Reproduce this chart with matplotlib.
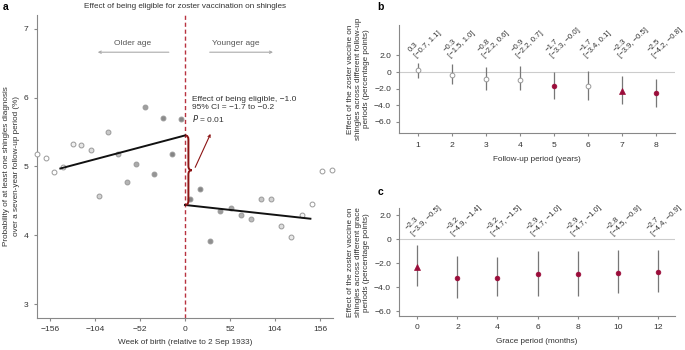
import matplotlib
matplotlib.use('Agg')
import matplotlib.pyplot as plt
import numpy as np
from matplotlib.path import Path
from matplotlib.patches import PathPatch

plt.rcParams['font.family'] = ['Liberation Sans', 'DejaVu Sans']
plt.rcParams['font.size'] = 5.5
plt.rcParams['axes.unicode_minus'] = True

# ---- panel a data (week of birth, probability %) ----
weeks_left = [-170.7, -161.0, -151.1, -141.0, -129.8, -119.8, -109.0, -99.0, -88.6,
              -77.8, -67.4, -57.0, -46.6, -36.2, -25.8, -15.4, -5.0]
prob_left = [5.18, 5.12, 4.92, 4.99, 5.32, 5.31, 5.24, 4.57, 5.50,
             5.18, 4.77, 5.04, 5.86, 4.89, 5.71, 5.18, 5.69]
weeks_right = [5.8, 17.7, 29.2, 40.8, 52.8, 64.4, 76.3, 87.8, 99.4, 111.3,
               122.8, 134.9, 146.4, 158.0, 169.5]
prob_right = [4.53, 4.67, 3.91, 4.35, 4.39, 4.30, 4.23, 4.52, 4.52, 4.13,
              3.97, 4.30, 4.46, 4.94, 4.95]
fit_left_x = [-144, 0]
fit_left_y = [4.97, 5.45]
fit_right_x = [0, 145]
fit_right_y = [4.44, 4.24]
bandwidth = 145

# ---- panel b data ----
followup = [1, 2, 3, 4, 5, 6, 7, 8]
fu_est = [0.3, -0.3, -0.8, -0.9, -1.7, -1.7, -2.3, -2.5]
fu_lo = [-0.7, -1.5, -2.2, -2.2, -3.3, -3.4, -3.9, -4.2]
fu_hi = [1.1, 1.0, 0.6, 0.7, -0.0, 0.1, -0.5, -0.8]
fu_lab_lo = ['−0.7', '−1.5', '−2.2', '−2.2', '−3.3', '−3.4', '−3.9', '−4.2']
fu_lab_hi = ['1.1', '1.0', '0.6', '0.7', '−0.0', '0.1', '−0.5', '−0.8']
fu_marker = ['open', 'open', 'open', 'open', 'circle', 'open', 'tri', 'circle']

# ---- panel c data ----
grace = [0, 2, 4, 6, 8, 10, 12]
gr_est = [-2.3, -3.2, -3.2, -2.9, -2.9, -2.8, -2.7]
gr_lo = [-3.9, -4.9, -4.7, -4.7, -4.7, -4.5, -4.4]
gr_hi = [-0.5, -1.4, -1.5, -1.0, -1.0, -0.9, -0.9]
gr_lab_lo = ['−3.9', '−4.9', '−4.7', '−4.7', '−4.7', '−4.5', '−4.4']
gr_lab_hi = ['−0.5', '−1.4', '−1.5', '−1.0', '−1.0', '−0.9', '−0.9']
gr_marker = ['tri', 'circle', 'circle', 'circle', 'circle', 'circle', 'circle']

RED = '#9b0d3a'
DASH_RED = '#b8323f'
BRACE_RED = '#8c1414'
TXT = '#333333'


def fmt(v):
    return f'{v:.1f}'.replace('-', '−')


def style_axes(ax):
    for s in ['top', 'right']:
        ax.spines[s].set_visible(False)
    for s in ['left', 'bottom']:
        ax.spines[s].set_color('#888888')
        ax.spines[s].set_linewidth(0.8)
    ax.tick_params(colors='#888888', labelcolor=TXT, length=2.5, width=0.8, labelsize=6.1)


fig = plt.figure(figsize=(6.85, 3.5), dpi=100)

# ================= panel a =================
ax = fig.add_axes([0.054, 0.092, 0.432, 0.865])
style_axes(ax)
ax.set_xlim(-171, 171)
ax.set_ylim(2.8, 7.2)
ax.set_xticks([-156, -104, -52, 0, 52, 104, 156])
ax.set_xticklabels(['−156', '−104', '−52', '0', '52', '104', '156'])
ax.set_yticks([3, 4, 5, 6, 7])

xs = np.array(weeks_left + weeks_right)
ys = np.array(prob_left + prob_right)
wts = np.clip(1 - np.abs(xs) / bandwidth, 0, 1)
base = np.array([0.52, 0.52, 0.52])
for x, y, wt in zip(xs, ys, wts):
    face = 1 - (1 - base) * min(1, wt * 1.15)
    ax.plot(x, y, 'o', ms=3.5, mfc=face, mec='#999999', mew=0.7, clip_on=False, zorder=3)

ax.plot(fit_left_x, fit_left_y, color='#111111', lw=1.4, zorder=4)
ax.plot(fit_right_x, fit_right_y, color='#111111', lw=1.4, zorder=4)
ax.axvline(0, color=DASH_RED, lw=1.0, ls=(0, (3, 2)), zorder=2)

# curly brace between the two fits at the cut-off
y0, y1 = fit_left_y[1], fit_right_y[0]
ym = (y0 + y1) / 2
a = 4.0
verts = [(0.5, y0), (a, y0), (a, y0 - 0.06), (a, ym + 0.06), (a, ym), (2 * a, ym),
         (a, ym), (a, ym - 0.06), (a, y1 + 0.06), (a, y1), (0.5, y1)]
codes = [Path.MOVETO, Path.CURVE3, Path.CURVE3, Path.LINETO, Path.CURVE3, Path.CURVE3,
         Path.CURVE3, Path.CURVE3, Path.LINETO, Path.CURVE3, Path.CURVE3]
ax.add_patch(PathPatch(Path(verts, codes), fill=False, ec=BRACE_RED, lw=1.4, zorder=5))
ax.annotate('', xy=(30.9, 5.51), xytext=(10.5, 4.95),
            arrowprops=dict(arrowstyle='->,head_length=0.3,head_width=0.15', color=BRACE_RED, lw=0.8))
ax.text(8.5, 6.02, 'Effect of being eligible, −1.0\n95% CI = −1.7 to −0.2\n$P$ = 0.01',
        ha='left', va='top', fontsize=6.0, color=TXT, linespacing=1.2)

ax.annotate('', xy=(-104, 6.66), xytext=(-15.4, 6.66),
            arrowprops=dict(arrowstyle='->,head_length=0.3,head_width=0.15', color='#aaaaaa', lw=0.8))
ax.annotate('', xy=(105, 6.66), xytext=(25.4, 6.66),
            arrowprops=dict(arrowstyle='->,head_length=0.3,head_width=0.15', color='#aaaaaa', lw=0.8))
ax.text(-60, 6.78, 'Older age', ha='center', va='center', fontsize=6.0, color='#555555')
ax.text(59, 6.78, 'Younger age', ha='center', va='center', fontsize=6.0, color='#555555')

ax.set_xlabel('Week of birth (relative to 2 Sep 1933)', color=TXT, fontsize=5.9, labelpad=4)
ax.set_ylabel('Probability of at least one shingles diagnosis\nover a seven-year follow-up period (%)',
              color=TXT, fontsize=5.9, labelpad=3, linespacing=1.5)
fig.text(0.27, 0.98, 'Effect of being eligible for zoster vaccination on shingles',
         ha='center', va='center', fontsize=5.9, color=TXT)


def effect_panel(ax, xv, est, lo, hi, lab_lo, lab_hi, kinds, lab_y, lab_dx):
    style_axes(ax)
    ax.axhline(0, color='#cccccc', lw=0.8, zorder=1)
    ax.vlines(xv, lo, hi, color='#777777', lw=0.9, zorder=2)
    for x, e, k, l, h in zip(xv, est, kinds, lab_lo, lab_hi):
        if k == 'open':
            ax.plot(x, e, 'o', ms=3.4, mfc='white', mec='#999999', mew=0.7, zorder=3)
        elif k == 'tri':
            ax.plot(x, e, '^', ms=3.8, mfc=RED, mec=RED, mew=0.5, zorder=3)
        else:
            ax.plot(x, e, 'o', ms=3.4, mfc=RED, mec=RED, mew=0.5, zorder=3)
        ax.text(x + lab_dx, lab_y, f'{fmt(e)}\n[{l}, {h}]', rotation=45,
                rotation_mode='anchor', ha='left', va='bottom', fontsize=5.6,
                color=TXT, linespacing=1.15)


# ================= panel b =================
axb = fig.add_axes([0.583, 0.619, 0.402, 0.31])
effect_panel(axb, followup, fu_est, fu_lo, fu_hi, fu_lab_lo, fu_lab_hi, fu_marker, 1.55, 0.0)
axb.set_xlim(0.45, 8.55)
axb.set_ylim(-7.4, 5.7)
axb.set_xticks(followup)
axb.set_yticks([2, 0, -2, -4, -6])
axb.set_yticklabels(['2.0', '0', '−2.0', '−4.0', '−6.0'])
axb.set_xlabel('Follow-up period (years)', color=TXT, fontsize=5.9, labelpad=5)
axb.set_ylabel('Effect of the zoster vaccine on\nshingles across different follow-up\nperiods (percentage points)',
               color=TXT, fontsize=5.9, labelpad=3)

# ================= panel c =================
axc = fig.add_axes([0.583, 0.097, 0.402, 0.308])
effect_panel(axc, grace, gr_est, gr_lo, gr_hi, gr_lab_lo, gr_lab_hi, gr_marker, 0.2, -0.12)
axc.set_xlim(-0.9, 12.85)
axc.set_ylim(-6.4, 2.6)
axc.set_xticks(grace)
axc.set_yticks([2, 0, -2, -4, -6])
axc.set_yticklabels(['2.0', '0', '−2.0', '−4.0', '−6.0'])
axc.set_xlabel('Grace period (months)', color=TXT, fontsize=5.9, labelpad=5)
axc.set_ylabel('Effect of the zoster vaccine on\nshingles across different grace\nperiods (percentage points)',
               color=TXT, fontsize=5.9, labelpad=3)

fig.text(0.004, 0.98, 'a', fontsize=7.5, fontweight='bold', va='center', ha='left')
fig.text(0.551, 0.98, 'b', fontsize=7.5, fontweight='bold', va='center', ha='left')
fig.text(0.551, 0.452, 'c', fontsize=7.5, fontweight='bold', va='center', ha='left')

fig.savefig('out.png', dpi=100)
